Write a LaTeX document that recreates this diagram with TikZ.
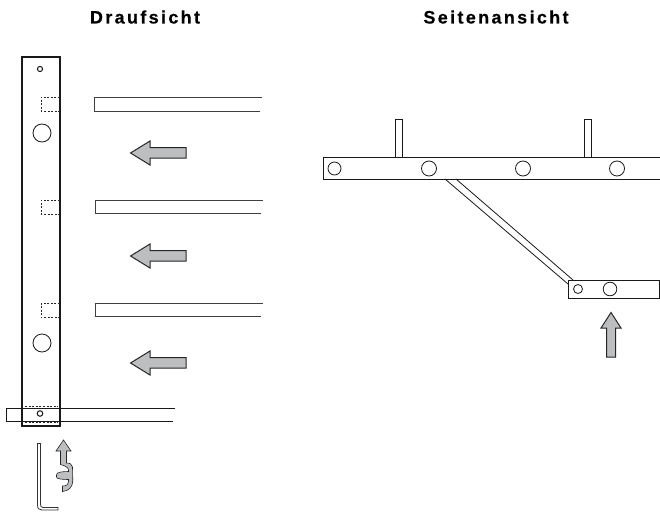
\documentclass[tikz,border=0pt]{standalone}
\usepackage{fontspec}
\newfontfamily\titlefont[LetterSpace=13,BoldFeatures={FakeBold=0.35}]{Liberation Sans}
\usepackage{tikz}
\tikzset{
  title/.style={font=\titlefont\bfseries\fontsize{18}{20}\selectfont,inner sep=0pt,anchor=base},
  post/.style={line width=1.2pt,draw=black!90},
  rail/.style={line width=1pt,draw=black!75},
  thin part/.style={line width=0.8pt,draw=black!90},
  hole/.style={line width=0.8pt,draw=black!90,fill=white},
  hidden/.style={line width=0.8pt,draw=black!85,dash pattern=on 2pt off 1.6pt},
  grayarrow/.style={line width=1pt,draw=black!85,fill=arrowgray,line join=miter},
}
\definecolor{arrowgray}{HTML}{BCBEC0}
\begin{document}
\begin{tikzpicture}[x=1pt,y=-1pt]
\useasboundingbox (0,0) rectangle (660,511);

\node[title] (draufsicht) at (145,23.5) {Draufsicht};
\node[title] (seitenansicht) at (496,23.5) {Seitenansicht};

% top view
\draw[post] (22,57) rectangle (60,426);
\draw[hole,line width=1pt] (40,69) circle (2.6);
\draw[hole] (42,133) circle (9);
\draw[hole] (42,343) circle (9);
\foreach \ya/\yb in {97/111, 200/214, 303.5/317.5}
  \draw[hidden] (60,\ya) -- (41,\ya) -- (41,\yb) -- (60,\yb);

\draw[rail] (262,97.5) -- (94,97.5) -- (94,111) -- (260,111);
\draw[rail] (263,200) -- (95,200) -- (95,213) -- (261,213);
\draw[rail] (263,303) -- (95,303) -- (95,316) -- (261,316);

\foreach \y in {153,256,363}
  \draw[grayarrow] (130.5,\y) -- (150,\y-12) -- (150,\y-5.5) -- (186,\y-5.5)
    -- (186,\y+5) -- (150,\y+5) -- (150,\y+12) -- cycle;

% screw
\draw[rail,draw=black!90] (175,408) -- (6.5,408) -- (6.5,421) -- (173,421);
\draw[hole,line width=1pt] (40,413.5) circle (2.8);
\draw[hidden,line width=1pt] (25,406) -- (58,406);
\draw[hidden,line width=1pt] (25,422) -- (58,422);

% hex key
\draw[line width=0.8pt,draw=black!80,fill=white] (37.5,443.5) -- (37.5,505) .. controls (37.5,508.5) and (39,510) .. (42,510)
  -- (58,510) -- (58,507.5) -- (43,507.5) .. controls (41,507.5) and (40.5,506.5) .. (40.5,504) -- (40.5,443.5) -- cycle;

% turning arrow
\draw[grayarrow,line width=0.6pt] (63.5,440) -- (71,451) -- (66.5,451) -- (66.5,463)
  .. controls (70,463) and (72,464) .. (72.5,467) -- (72.8,481)
  .. controls (72.5,487) and (69,491) .. (62.5,491.5) -- (62.5,486)
  .. controls (66,486) and (68.5,485) .. (68.5,481) -- (68.5,470)
  .. controls (68.5,467) and (64,465.5) .. (60.5,464.5) -- (60.5,451) -- (56,451) -- cycle;
\draw[grayarrow,line width=0.6pt] (69,471.5) .. controls (62,471.5) and (56.5,472) .. (56.5,475)
  -- (56.5,477) .. controls (56.5,479) and (62,479.5) .. (69,479.5);

% side view
\draw[thin part,fill=white] (395.5,157) -- (395.5,119) -- (402,119) -- (402,157);
\draw[thin part,fill=white] (584.5,157) -- (584.5,119) -- (591,119) -- (591,157);
\draw[thin part] (445,179) -- (568,284);
\draw[thin part] (456,179) -- (573,280);
\draw[thin part,line width=1pt] (660,157) -- (323.5,157) -- (323.5,179) -- (660,179);
\draw[hole] (334.5,168.5) circle (6.5);
\foreach \x in {429,523,617}
  \draw[hole] (\x,168.5) circle (7.5);

\draw[thin part,line width=1pt] (659.5,280.5) -- (568.5,280.5) -- (568.5,298) -- (659.5,298) -- cycle;
\draw[hole] (578,289) circle (4.5);
\draw[hole] (610,289) circle (6.8);
\draw[grayarrow] (611,312.5) -- (621,328) -- (615.5,328) -- (615.5,357) -- (606.5,357) -- (606.5,328) -- (601,328) -- cycle;
\end{tikzpicture}
\end{document}
